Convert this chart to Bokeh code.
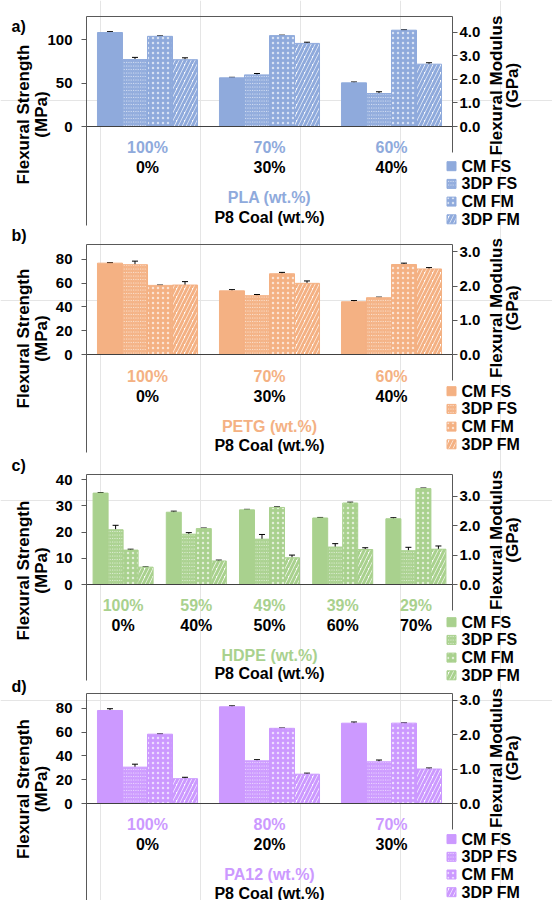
from math import pi

from bokeh.core.properties import value
from bokeh.embed import file_html
from bokeh.models import (ColumnDataSource, FixedTicker, Label, LinearAxis,
                          NumeralTickFormatter, Range1d, TeeHead, Whisker)
from bokeh.plotting import figure
from bokeh.resources import INLINE

# ---------------------------------------------------------------- data
series_names = ["CM FS", "3DP FS", "CM FM", "3DP FM"]

# a) PLA
pla_pct = ["100%", "70%", "60%"]
pla_coal = ["0%", "30%", "40%"]
pla_cm_fs = [108.5, 56.2, 50.4]
pla_cm_fs_err = [1.0, 0.6, 1.0]
pla_3dp_fs = [77.3, 59.6, 38.1]
pla_3dp_fs_err = [2.5, 1.6, 2.0]
pla_cm_fm = [3.82, 3.85, 4.08]
pla_cm_fm_err = [0.02, 0.02, 0.02]
pla_3dp_fm = [2.83, 3.52, 2.64]
pla_3dp_fm_err = [0.08, 0.05, 0.06]

# b) PETG
petg_pct = ["100%", "70%", "60%"]
petg_coal = ["0%", "30%", "40%"]
petg_cm_fs = [76.9, 53.6, 44.4]
petg_cm_fs_err = [0.5, 1.0, 1.0]
petg_3dp_fs = [75.6, 49.5, 47.8]
petg_3dp_fs_err = [3.0, 1.0, 0.5]
petg_cm_fm = [2.02, 2.36, 2.63]
petg_cm_fm_err = [0.01, 0.04, 0.04]
petg_3dp_fm = [2.03, 2.08, 2.50]
petg_3dp_fm_err = [0.10, 0.07, 0.04]

# c) HDPE
hdpe_pct = ["100%", "59%", "49%", "39%", "29%"]
hdpe_coal = ["0%", "40%", "50%", "60%", "70%"]
hdpe_cm_fs = [34.9, 27.6, 28.5, 25.4, 25.1]
hdpe_cm_fs_err = [0.2, 0.4, 0.2, 0.2, 0.4]
hdpe_3dp_fs = [20.9, 19.2, 17.3, 14.3, 12.9]
hdpe_3dp_fs_err = [1.7, 0.6, 1.8, 1.3, 1.3]
hdpe_cm_fm = [1.17, 1.90, 2.62, 2.77, 3.26]
hdpe_cm_fm_err = [0.03, 0.02, 0.02, 0.03, 0.02]
hdpe_3dp_fm = [0.59, 0.80, 0.91, 1.19, 1.20]
hdpe_3dp_fm_err = [0.01, 0.03, 0.09, 0.06, 0.11]

# d) PA12
pa12_pct = ["100%", "80%", "70%"]
pa12_coal = ["0%", "20%", "30%"]
pa12_cm_fs = [78.3, 81.4, 67.6]
pa12_cm_fs_err = [1.5, 0.8, 1.0]
pa12_3dp_fs = [30.6, 35.9, 35.1]
pa12_3dp_fs_err = [2.5, 1.0, 1.5]
pa12_cm_fm = [2.01, 2.18, 2.33]
pa12_cm_fm_err = [0.01, 0.01, 0.01]
pa12_3dp_fm = [0.72, 0.85, 1.00]
pa12_3dp_fm_err = [0.04, 0.03, 0.03]

fs_ticks_a = [0, 50, 100]
fs_ticks_bd = [0, 20, 40, 60, 80]
fs_ticks_c = [0, 10, 20, 30, 40]
fm_ticks_a = [0, 1, 2, 3, 4]
fm_ticks_bcd = [0, 1, 2, 3]

# ---------------------------------------------------------------- style
FONT = "Liberation Sans"
AX = "#595959"
W, HGT = 552, 900
X0, X1 = 86, 452               # left / right edge of every bar area
ZERO_PX = 110                  # top border to the zero line
BW = 0.205                     # bar width in category units
PITCH = 17.7                   # legend row pitch

# One canvas-sized frame; the default ranges are plain pixels (y up),
# every panel gets its own x / strength / modulus ranges on top of it.
p = figure(width=W, height=HGT,
           x_range=Range1d(0, W), y_range=Range1d(0, HGT),
           x_axis_location=None, y_axis_location=None,
           min_border=0, output_backend="svg", toolbar_location=None,
           outline_line_color=None,
           background_fill_color="white", border_fill_color="white")

AXIS_STYLE = dict(axis_line_color=AX, major_tick_line_color=AX,
                  major_tick_out=5, major_tick_in=0,
                  minor_tick_line_color=None,
                  major_label_text_font=FONT,
                  major_label_text_font_style="bold",
                  major_label_text_font_size="15px",
                  major_label_text_color="black")


def bar_styles(color):
    return [
        dict(fill_color=color),
        dict(fill_color="white", hatch_pattern="left_diagonal_line",
             hatch_color=color, hatch_scale=3.5, hatch_weight=1.5),
        dict(fill_color=color, hatch_pattern="dot", hatch_color="white",
             hatch_scale=5, hatch_weight=1, hatch_alpha=0.65),
        dict(fill_color="white", hatch_pattern="right_diagonal_line",
             hatch_color=color, hatch_scale=8, hatch_weight=3),
    ]


def add_panel(key, tag, polymer, color, pct, coal, values, errors,
              fs_top, fs_ticks, fm_top, fm_ticks,
              T, below, rows, tag_dy, ltitle_dy, rtitle_dy, legend_dy):
    n = len(pct)
    zero = T + ZERO_PX                       # canvas row of the zero line
    fs_px = ZERO_PX / fs_top                 # px per MPa
    fm_px = ZERO_PX / fm_top                 # px per GPa
    cat_px = (X1 - X0) / n                   # px per category
    xr, fsr, fmr = f"x_{key}", f"fs_{key}", f"fm_{key}"

    p.extra_x_ranges = {**p.extra_x_ranges,
                        xr: Range1d(-X0 / cat_px, n + (W - X1) / cat_px)}
    p.extra_y_ranges = {**p.extra_y_ranges,
                        fsr: Range1d(-(HGT - zero) / fs_px, zero / fs_px),
                        fmr: Range1d(-(HGT - zero) / fm_px, zero / fm_px)}

    # strength axis (left) and modulus axis (right), pinned to the bar area
    p.add_layout(LinearAxis(x_range_name=xr, y_range_name=fsr,
                            fixed_location=0, bounds=(-below / fs_px, fs_top),
                            ticker=FixedTicker(ticks=fs_ticks),
                            formatter=NumeralTickFormatter(format="0"),
                            major_label_standoff=9, **AXIS_STYLE), "left")
    p.add_layout(LinearAxis(x_range_name=xr, y_range_name=fmr,
                            fixed_location=n, bounds=(-26 / fm_px, fm_top),
                            ticker=FixedTicker(ticks=fm_ticks),
                            formatter=NumeralTickFormatter(format="0.0"),
                            major_label_standoff=2, **AXIS_STYLE), "right")
    # top border and category line
    for loc, side, col in ((fs_top, "above", AX), (0, "below", "#404040")):
        p.add_layout(LinearAxis(x_range_name=xr, y_range_name=fsr,
                                fixed_location=loc, bounds=(0, n),
                                ticker=FixedTicker(ticks=[]),
                                axis_line_color=col,
                                major_tick_line_color=None,
                                minor_tick_line_color=None,
                                major_label_text_font_size="0px"), side)

    styles = bar_styles(color)
    for k, (vals, errs, st) in enumerate(zip(values, errors, styles)):
        xs = [i + 0.5 + (k - 1.5) * BW for i in range(n)]
        src = ColumnDataSource(dict(
            x=xs, top=vals,
            upper=[v + e for v, e in zip(vals, errs)],
            lower=[v - e for v, e in zip(vals, errs)]))
        yr = fmr if k >= 2 else fsr
        p.vbar(x="x", top="top", bottom=0, width=BW, source=src,
               line_color=color, line_width=1,
               x_range_name=xr, y_range_name=yr, **st)
        head = dict(size=6, line_color="black", line_width=1)
        p.add_layout(Whisker(source=src, base="x", upper="upper", lower="lower",
                             line_color="black", line_width=1,
                             upper_head=TeeHead(**head),
                             lower_head=TeeHead(**head),
                             x_range_name=xr, y_range_name=yr))

    # two-row category labels and the two titles under them
    centers = [i + 0.5 for i in range(n)]
    txt = dict(text_font=value(FONT), text_font_style="bold",
               text_font_size="16px", text_align="center",
               text_baseline="middle", x_range_name=xr, y_range_name=fsr)
    r1, r2, r3, r4 = rows
    p.text(x=centers, y=[-r1 / fs_px] * n, text=pct, text_color=color, **txt)
    p.text(x=centers, y=[-r2 / fs_px] * n, text=coal, text_color="black", **txt)
    p.text(x=[n / 2], y=[-r3 / fs_px], text=[f"{polymer} (wt.%)"],
           text_color=color, **txt)
    p.text(x=[n / 2], y=[-r4 / fs_px], text=["P8 Coal (wt.%)"],
           text_color="black", **txt)

    # panel tag and axis titles (pixel ranges)
    lab = dict(text_font=FONT, text_font_style="bold", text_color="black")
    p.add_layout(Label(x=11, y=HGT - (T + tag_dy), text=tag, text_align="left",
                       text_baseline="middle", text_font_size="16px", **lab))
    for cx, t in ((23, "Flexural Strength"), (41, "(MPa)")):
        p.add_layout(Label(x=cx, y=HGT - (T + ltitle_dy), text=t, angle=pi / 2,
                           text_align="center", text_baseline="middle",
                           text_font_size="17px", **lab))
    for cx, t in ((496, "Flexural Modulus"), (511.5, "(GPa)")):
        p.add_layout(Label(x=cx, y=HGT - (T + rtitle_dy), text=t, angle=pi / 2,
                           text_align="center", text_baseline="middle",
                           text_font_size="17px", **lab))

    # legend: swatch + label per series
    for k, (name, st) in enumerate(zip(series_names, styles)):
        yk = HGT - (zero + legend_dy + PITCH * k)
        p.rect(x=X1 - 1, y=yk, width=9, height=9,
               line_color=color, line_width=1, **st)
        p.add_layout(Label(x=X1 + 9, y=yk, text=name, text_align="left",
                           text_baseline="middle", text_font_size="16px",
                           **lab))


add_panel("a", "a)", "PLA", "#8FAADC", pla_pct, pla_coal,
          [pla_cm_fs, pla_3dp_fs, pla_cm_fm, pla_3dp_fm],
          [pla_cm_fs_err, pla_3dp_fs_err, pla_cm_fm_err, pla_3dp_fm_err],
          127, fs_ticks_a, 4.66, fm_ticks_a,
          T=16, below=99, rows=(21, 41, 71, 91),
          tag_dy=10, ltitle_dy=98, rtitle_dy=69, legend_dy=39.7)
add_panel("b", "b)", "PETG", "#F4B183", petg_pct, petg_coal,
          [petg_cm_fs, petg_3dp_fs, petg_cm_fm, petg_3dp_fm],
          [petg_cm_fs_err, petg_3dp_fs_err, petg_cm_fm_err, petg_3dp_fm_err],
          92.6, fs_ticks_bd, 3.215, fm_ticks_bcd,
          T=244, below=98, rows=(21.5, 41.5, 71.5, 91),
          tag_dy=-9, ltitle_dy=94, rtitle_dy=63.5, legend_dy=36.7)
add_panel("c", "c)", "HDPE", "#A9D18E", hdpe_pct, hdpe_coal,
          [hdpe_cm_fs, hdpe_3dp_fs, hdpe_cm_fm, hdpe_3dp_fm],
          [hdpe_cm_fs_err, hdpe_3dp_fs_err, hdpe_cm_fm_err, hdpe_3dp_fm_err],
          42.0, fs_ticks_c, 3.74, fm_ticks_bcd,
          T=474, below=96, rows=(21, 41, 71, 89),
          tag_dy=-9, ltitle_dy=96, rtitle_dy=65.5, legend_dy=37.7)
add_panel("d", "d)", "PA12", "#CC99FF", pa12_pct, pa12_coal,
          [pa12_cm_fs, pa12_3dp_fs, pa12_cm_fm, pa12_3dp_fm],
          [pa12_cm_fs_err, pa12_3dp_fs_err, pa12_cm_fm_err, pa12_3dp_fm_err],
          92.6, fs_ticks_bd, 3.19, fm_ticks_bcd,
          T=693, below=97, rows=(20.6, 40.6, 70.6, 89.5),
          tag_dy=-7.3, ltitle_dy=95.5, rtitle_dy=64.5, legend_dy=35.6)

open("out.html", "w").write(file_html(p, INLINE))
